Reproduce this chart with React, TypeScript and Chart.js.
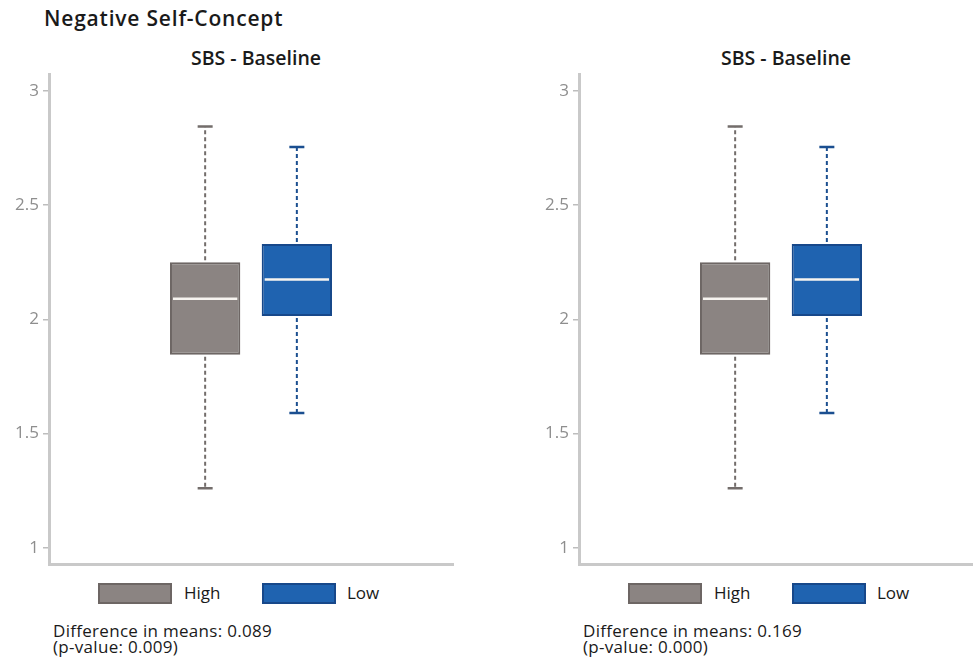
import React, { useEffect, useRef } from "react";
import { Chart, registerables } from "chart.js";
Chart.register(...registerables);

const FONT = "'Open Sans', 'Noto Sans', sans-serif";

const MAIN_TITLE = "Negative Self-Concept";
const PANEL_TITLES = ["SBS - Baseline", "SBS - Baseline"];
const GROUPS = ["High", "Low"];
const CATEGORY = ["SBS - Baseline"];
const Y_TICKS = [1, 1.5, 2, 2.5, 3];

// Panel 1 box statistics (High, Low)
const P1_MIN = [1.26, 1.59];
const P1_Q1 = [1.845, 2.015];
const P1_MED = [2.09, 2.175];
const P1_Q3 = [2.25, 2.33];
const P1_MAX = [2.845, 2.755];

// Panel 2 box statistics (High, Low)
const P2_MIN = [1.26, 1.59];
const P2_Q1 = [1.845, 2.015];
const P2_MED = [2.09, 2.175];
const P2_Q3 = [2.25, 2.33];
const P2_MAX = [2.845, 2.755];

const P1_NOTE = ["Difference in means: 0.089", "(p-value: 0.009)"];
const P2_NOTE = ["Difference in means: 0.169", "(p-value: 0.000)"];

const FILL = ["#8b8482", "#1f63b0"];
const BORDER = ["#6d6664", "#17488a"];
const WHISKER = ["#736d6b", "#1b4f90"];

type Stats = { min: number[]; q1: number[]; med: number[]; q3: number[]; max: number[] };

const PANELS: { title: string; stats: Stats; note: string[] }[] = [
  { title: PANEL_TITLES[0], stats: { min: P1_MIN, q1: P1_Q1, med: P1_MED, q3: P1_Q3, max: P1_MAX }, note: P1_NOTE },
  { title: PANEL_TITLES[1], stats: { min: P2_MIN, q1: P2_Q1, med: P2_MED, q3: P2_Q3, max: P2_MAX }, note: P2_NOTE },
];

function BoxChart({ stats }: { stats: Stats }) {
  const ref = useRef<HTMLCanvasElement | null>(null);
  useEffect(() => {
    if (!ref.current) return;
    const whiskerPlugin = {
      id: "whiskers",
      afterDatasetsDraw(chart: any) {
        const ctx = chart.ctx;
        const y = chart.scales.y;
        chart.data.datasets.forEach((_ds: any, i: number) => {
          const meta = chart.getDatasetMeta(i);
          meta.data.forEach((bar: any) => {
            const { x, width } = bar.getProps(["x", "width"], true);
            const pMin = y.getPixelForValue(stats.min[i]);
            const pQ1 = y.getPixelForValue(stats.q1[i]);
            const pMed = y.getPixelForValue(stats.med[i]);
            const pQ3 = y.getPixelForValue(stats.q3[i]);
            const pMax = y.getPixelForValue(stats.max[i]);
            ctx.save();
            ctx.strokeStyle = WHISKER[i];
            ctx.lineWidth = 2;
            ctx.setLineDash([4, 3]);
            ctx.beginPath();
            ctx.moveTo(x, pQ3 - 2);
            ctx.lineTo(x, pMax);
            ctx.moveTo(x, pQ1 + 2);
            ctx.lineTo(x, pMin);
            ctx.stroke();
            ctx.setLineDash([]);
            ctx.lineWidth = 2.5;
            ctx.beginPath();
            ctx.moveTo(x - 7.5, pMax);
            ctx.lineTo(x + 7.5, pMax);
            ctx.moveTo(x - 7.5, pMin);
            ctx.lineTo(x + 7.5, pMin);
            ctx.stroke();
            ctx.strokeStyle = "#f7f4f0";
            ctx.lineWidth = 2.5;
            ctx.beginPath();
            ctx.moveTo(x - width / 2 + 3, pMed);
            ctx.lineTo(x + width / 2 - 3, pMed);
            ctx.stroke();
            ctx.restore();
          });
        });
      },
    };
    const chart = new Chart(ref.current, {
      type: "bar",
      data: {
        labels: CATEGORY,
        datasets: GROUPS.map((g, i) => ({
          label: g,
          data: [[stats.q1[i], stats.q3[i]]] as any,
          backgroundColor: FILL[i],
          borderColor: BORDER[i],
          borderWidth: 2,
          borderSkipped: false,
          categoryPercentage: 0.454,
          barPercentage: 0.767,
        })),
      },
      options: {
        responsive: false,
        animation: false,
        layout: { padding: { top: 13, bottom: 10.8, left: 0, right: 17 } },
        plugins: {
          legend: { display: false },
          title: { display: false },
          tooltip: { enabled: false },
        },
        scales: {
          x: {
            type: "category",
            ticks: { display: false },
            grid: { display: false, drawTicks: false },
            border: { display: true, color: "#c9c9c9", width: 3 },
            afterFit: (s: any) => {
              s.height = 0;
            },
          },
          y: {
            min: 0.925,
            max: 3.074,
            afterBuildTicks: (s: any) => {
              s.ticks = Y_TICKS.map((v) => ({ value: v }));
            },
            afterFit: (s: any) => {
              s.width = 49;
            },
            ticks: {
              color: "#8e8e8e",
              padding: 4,
              font: { family: FONT, size: 17 },
              callback: (v: any) => String(v),
            },
            grid: {
              display: true,
              drawOnChartArea: false,
              drawTicks: true,
              tickLength: 6,
              color: "#bdbdbd",
              lineWidth: 1.5,
            },
            border: { display: true, color: "#c9c9c9", width: 3 },
          },
        },
      },
      plugins: [whiskerPlugin],
    });
    return () => chart.destroy();
  }, [stats]);
  return <canvas ref={ref} width={470} height={519} style={{ display: "block" }} />;
}

export default function App() {
  const offsets = [0, 530];
  return (
    <div
      style={{
        position: "absolute",
        left: 0,
        top: 0,
        width: 973,
        height: 664,
        overflow: "hidden",
        background: "#fff",
        fontFamily: FONT,
        color: "#1a1a1a",
      }}
    >
      <div
        style={{
          position: "absolute",
          left: 44,
          top: 3,
          fontSize: 21,
          fontWeight: 600,
          letterSpacing: "0.8px",
          lineHeight: "30px",
          whiteSpace: "nowrap",
        }}
      >
        {MAIN_TITLE}
      </div>
      {PANELS.map((p, k) => {
        const ox = offsets[k];
        return (
          <React.Fragment key={k}>
            <div
              style={{
                position: "absolute",
                left: ox + 156,
                width: 200,
                top: 44,
                textAlign: "center",
                fontSize: 19.5,
                fontWeight: 600,
                lineHeight: "28px",
                whiteSpace: "nowrap",
              }}
            >
              {p.title}
            </div>
            <div style={{ position: "absolute", left: ox, top: 60 }}>
              <BoxChart stats={p.stats} />
            </div>
            {GROUPS.map((g, i) => (
              <React.Fragment key={g}>
                <div
                  style={{
                    position: "absolute",
                    left: ox + (i === 0 ? 98 : 262),
                    top: 583,
                    width: 74,
                    height: 21,
                    boxSizing: "border-box",
                    background: FILL[i],
                    border: `2px solid ${BORDER[i]}`,
                  }}
                />
                <div
                  style={{
                    position: "absolute",
                    left: ox + (i === 0 ? 184 : 347),
                    top: 581,
                    fontSize: 17,
                    lineHeight: "24px",
                    whiteSpace: "nowrap",
                  }}
                >
                  {g}
                </div>
              </React.Fragment>
            ))}
            <div
              style={{
                position: "absolute",
                left: ox + 53,
                top: 623,
                fontSize: 17,
                letterSpacing: "0.3px",
                lineHeight: "16px",
                whiteSpace: "nowrap",
              }}
            >
              <div>{p.note[0]}</div>
              <div>{p.note[1]}</div>
            </div>
          </React.Fragment>
        );
      })}
    </div>
  );
}
